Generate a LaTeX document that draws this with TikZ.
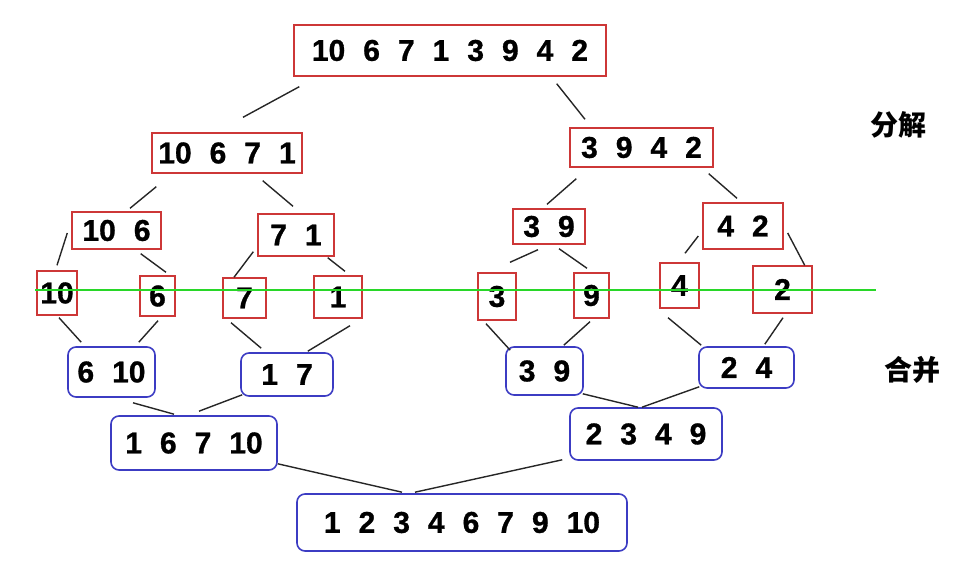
\documentclass[tikz,border=0pt]{standalone}
\usepackage{fontspec}
\setmainfont{Liberation Sans}[BoldFeatures={FakeBold=1}]
\newfontfamily\cjkfont{Noto Sans CJK SC}
\usepackage{tikz}
\definecolor{splitred}{RGB}{205,55,55}
\definecolor{mergeblue}{RGB}{60,60,195}
\definecolor{cutgreen}{RGB}{40,215,40}
\newcommand{\numfont}{\fontsize{30}{36}\selectfont\bfseries\spaceskip=18pt\relax}

\begin{document}
\begin{tikzpicture}[x=1pt,y=-1pt,
		split/.style={rectangle, draw=splitred, line width=1.4pt, inner sep=0pt, font=\numfont},
		merge/.style={rectangle, rounded corners=8pt, draw=mergeblue, line width=1.6pt, inner sep=0pt, font=\numfont},
		link/.style={line width=1.4pt, black!85}]
		\useasboundingbox (0,0) rectangle (971,561);

		% Whole array
		\node (S_all) at (450,50.5) [split, minimum width=312pt, minimum height=51pt] {10 6 7 1 3 9 4 2};

		% First split
		\node (S_10671) at (227,153) [split, minimum width=150pt, minimum height=40pt] {10 6 7 1};
		\node (S_3942) at (641.5,147.5) [split, minimum width=143pt, minimum height=39pt] {3 9 4 2};

		% Second split
		\node (S_106) at (116.5,230.5) [split, minimum width=89pt, minimum height=37pt] {10 6};
		\node (S_71) at (296,235) [split, minimum width=76pt, minimum height=42pt] {7 1};
		\node (S_39) at (549,226.5) [split, minimum width=72pt, minimum height=35pt] {3 9};
		\node (S_42) at (743,226) [split, minimum width=80pt, minimum height=46pt] {4 2};

		% Single elements
		\node (S_10) at (57,293) [split, minimum width=40pt, minimum height=44pt] {10};
		\node (S_6) at (157.5,296) [split, minimum width=35pt, minimum height=40pt] {6};
		\node (S_7) at (244.5,298) [split, minimum width=43pt, minimum height=40pt] {7};
		\node (S_1) at (338,297) [split, minimum width=48pt, minimum height=42pt] {1};
		\node (S_3) at (497,296.5) [split, minimum width=38pt, minimum height=47pt] {3};
		\node (S_9) at (591.5,295.5) [split, minimum width=35pt, minimum height=45pt] {9};
		\node (S_4) at (679.5,285.5) [split, minimum width=39pt, minimum height=45pt] {4};
		\node (S_2) at (782.5,289.5) [split, minimum width=59pt, minimum height=47pt] {2};

		% First merge
		\node (M_610) at (111.5,372) [merge, minimum width=87pt, minimum height=50pt] {6 10};
		\node (M_17) at (287,374.5) [merge, minimum width=92pt, minimum height=43pt] {1 7};
		\node (M_39) at (544.5,371) [merge, minimum width=77pt, minimum height=48pt] {3 9};
		\node (M_24) at (746.5,367.5) [merge, minimum width=95pt, minimum height=41pt] {2 4};

		% Second merge
		\node (M_16710) at (194,443) [merge, minimum width=166pt, minimum height=54pt] {1 6 7 10};
		\node (M_2349) at (646,434) [merge, minimum width=152pt, minimum height=52pt] {2 3 4 9};

		% Sorted array
		\node (M_all) at (462,522.5) [merge, minimum width=330pt, minimum height=57pt] {1 2 3 4 6 7 9 10};

		% Side labels
		\node (lbl_split) at (898,125) [font=\cjkfont\bfseries\fontsize{28}{32}\selectfont] {分解};
		\node (lbl_merge) at (912,370) [font=\cjkfont\bfseries\fontsize{28}{32}\selectfont] {合并};

		% Splitting links
		\draw [link] ([shift={(6,10)}]S_all.south west) -- ([shift={(16,-15)}]S_10671.north);
		\draw [link] ([shift={(-50,7)}]S_all.south east) -- ([shift={(-56.5,-8)}]S_3942.north);
		\draw [link] ([shift={(5,13)}]S_10671.south west) -- ([shift={(13.5,-3)}]S_106.north);
		\draw [link] ([shift={(-40,7)}]S_10671.south east) -- ([shift={(-3,-7)}]S_71.north);
		\draw [link] ([shift={(7,11)}]S_3942.south west) -- ([shift={(-2,-4)}]S_39.north);
		\draw [link] ([shift={(-5,6)}]S_3942.south east) -- ([shift={(-6,-4)}]S_42.north);
		\draw [link] ([shift={(-4,2.5)}]S_106.west) -- ([shift={(0,-5)}]S_10.north);
		\draw [link] ([shift={(-21,4)}]S_106.south east) -- ([shift={(8.5,-3)}]S_6.north);
		\draw [link] ([shift={(-4,-5)}]S_71.south west) -- ([shift={(-10.5,0)}]S_7.north);
		\draw [link] ([shift={(-7,1)}]S_71.south east) -- ([shift={(7,-4)}]S_1.north);
		\draw [link] ([shift={(-11,5)}]S_39.south) -- ([shift={(13,-10)}]S_3.north);
		\draw [link] ([shift={(10,4)}]S_39.south) -- ([shift={(-4.5,-4)}]S_9.north);
		\draw [link] ([shift={(-4,10)}]S_42.west) -- ([shift={(5.5,-9)}]S_4.north);
		\draw [link] ([shift={(4,7)}]S_42.east) -- ([shift={(-8,0)}]S_2.north east);

		% Merging links
		\draw [link] ([shift={(2,2)}]S_10.south) -- ([shift={(14,-4)}]M_610.north west);
		\draw [link] ([shift={(0.5,4)}]S_6.south) -- ([shift={(-17,-4)}]M_610.north east);
		\draw [link] ([shift={(-13.5,4)}]S_7.south) -- ([shift={(21,-4)}]M_17.north west);
		\draw [link] ([shift={(12,7)}]S_1.south) -- ([shift={(-26,-1)}]M_17.north east);
		\draw [link] ([shift={(-11,3)}]S_3.south) -- ([shift={(5,4)}]M_39.north west);
		\draw [link] ([shift={(-1.5,3)}]S_9.south) -- ([shift={(-20,-1)}]M_39.north east);
		\draw [link] ([shift={(-11.5,9)}]S_4.south) -- ([shift={(3,-1)}]M_24.north west);
		\draw [link] ([shift={(0.5,4)}]S_2.south) -- ([shift={(-30,-2)}]M_24.north east);
		\draw [link] ([shift={(21.5,5)}]M_610.south) -- ([shift={(-20,-1)}]M_16710.north);
		\draw [link] ([shift={(2,-2)}]M_17.south west) -- ([shift={(5,-4)}]M_16710.north);
		\draw [link] ([shift={(-1,-2)}]M_39.south east) -- ([shift={(-8,0)}]M_2349.north);
		\draw [link] ([shift={(1,-2)}]M_24.south west) -- ([shift={(-4,0)}]M_2349.north);
		\draw [link] ([shift={(0,-7)}]M_16710.south east) -- ([shift={(-60,-1)}]M_all.north);
		\draw [link] ([shift={(-7,-1)}]M_2349.south west) -- ([shift={(-47,-1)}]M_all.north);

		% Dividing line between splitting and merging
		\coordinate (cut_L) at (35,290);
		\coordinate (cut_R) at (876,290);
		\draw [cutgreen, line width=1.5pt] (cut_L) -- (cut_R);
\end{tikzpicture}
\end{document}
